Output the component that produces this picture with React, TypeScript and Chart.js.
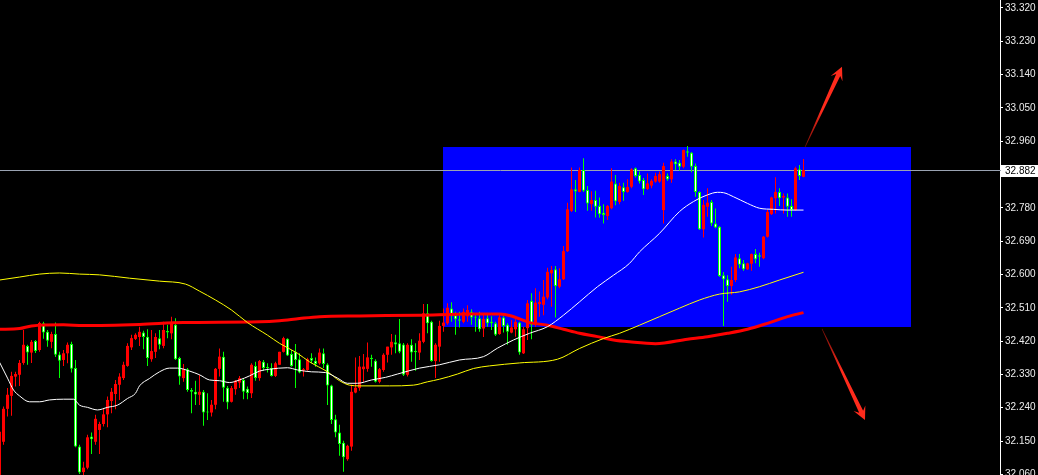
import { useEffect, useRef } from "react";
import { Chart, registerables } from "chart.js";

Chart.register(...registerables);

// Candle OHLC, one entry per bar (bar 0 is the partly visible bar at the left edge)
const OPEN = [
  32.050,
  32.148, 32.237, 32.272, 32.324, 32.329, 32.361, 32.407, 32.389, 32.420, 32.396,
  32.468, 32.445, 32.418, 32.439, 32.384, 32.369, 32.387, 32.412, 32.347, 32.135,
  32.066, 32.078, 32.162, 32.148, 32.180, 32.196, 32.222, 32.258, 32.277, 32.302,
  32.320, 32.353, 32.403, 32.426, 32.431, 32.443, 32.432, 32.371, 32.391, 32.428,
  32.407, 32.447, 32.441, 32.464, 32.374, 32.320, 32.344, 32.288, 32.283, 32.275,
  32.283, 32.229, 32.227, 32.248, 32.345, 32.378, 32.294, 32.256, 32.290, 32.308,
  32.315, 32.291, 32.279, 32.353, 32.320, 32.364, 32.349, 32.347, 32.326, 32.356,
  32.391, 32.426, 32.385, 32.391, 32.371, 32.340, 32.342, 32.374, 32.367, 32.360,
  32.387, 32.357, 32.300, 32.209, 32.173, 32.145, 32.101, 32.135, 32.281, 32.293,
  32.344, 32.345, 32.375, 32.367, 32.310, 32.342, 32.383, 32.403, 32.417, 32.414,
  32.411, 32.329, 32.410, 32.393, 32.389, 32.418, 32.495, 32.472, 32.366, 32.405,
  32.461, 32.468, 32.508, 32.490, 32.479, 32.472, 32.487, 32.499, 32.486, 32.482,
  32.454, 32.482, 32.472, 32.468, 32.439, 32.484, 32.464, 32.443, 32.452, 32.470,
  32.387, 32.455, 32.528, 32.464, 32.520, 32.518, 32.538, 32.603, 32.614, 32.567,
  32.587, 32.663, 32.772, 32.830, 32.823, 32.882, 32.828, 32.790, 32.801, 32.785,
  32.767, 32.758, 32.779, 32.846, 32.796, 32.836, 32.823, 32.837, 32.887, 32.869,
  32.855, 32.831, 32.840, 32.851, 32.851, 32.774, 32.866, 32.857, 32.905, 32.902,
  32.891, 32.933, 32.929, 32.893, 32.823, 32.722, 32.783, 32.796, 32.738, 32.729,
  32.598, 32.587, 32.569, 32.585, 32.644, 32.630, 32.614, 32.629, 32.655, 32.652,
  32.644, 32.702, 32.763, 32.806, 32.823, 32.808, 32.808, 32.785, 32.774, 32.884,
  32.864,
];

const HIGH = [
  32.190,
  32.243, 32.293, 32.337, 32.337, 32.369, 32.450, 32.410, 32.423, 32.423, 32.472,
  32.472, 32.450, 32.445, 32.470, 32.391, 32.396, 32.416, 32.418, 32.369, 32.140,
  32.094, 32.167, 32.173, 32.221, 32.202, 32.239, 32.270, 32.293, 32.315, 32.333,
  32.364, 32.414, 32.437, 32.441, 32.459, 32.448, 32.452, 32.450, 32.441, 32.450,
  32.472, 32.464, 32.486, 32.482, 32.378, 32.358, 32.347, 32.293, 32.313, 32.329,
  32.288, 32.279, 32.261, 32.347, 32.400, 32.391, 32.299, 32.299, 32.315, 32.326,
  32.320, 32.297, 32.360, 32.364, 32.369, 32.369, 32.360, 32.360, 32.364, 32.391,
  32.432, 32.428, 32.396, 32.412, 32.387, 32.347, 32.375, 32.387, 32.376, 32.400,
  32.400, 32.360, 32.302, 32.221, 32.194, 32.151, 32.140, 32.302, 32.376, 32.380,
  32.385, 32.416, 32.383, 32.371, 32.347, 32.387, 32.405, 32.439, 32.437, 32.480,
  32.415, 32.414, 32.425, 32.414, 32.441, 32.520, 32.520, 32.475, 32.414, 32.475,
  32.508, 32.522, 32.525, 32.499, 32.499, 32.508, 32.517, 32.506, 32.496, 32.499,
  32.493, 32.495, 32.487, 32.472, 32.495, 32.487, 32.468, 32.477, 32.479, 32.472,
  32.459, 32.531, 32.549, 32.563, 32.554, 32.585, 32.618, 32.623, 32.623, 32.617,
  32.677, 32.794, 32.889, 32.855, 32.889, 32.914, 32.839, 32.825, 32.826, 32.808,
  32.790, 32.788, 32.887, 32.869, 32.848, 32.848, 32.857, 32.887, 32.889, 32.878,
  32.861, 32.873, 32.857, 32.875, 32.878, 32.902, 32.873, 32.911, 32.911, 32.909,
  32.938, 32.947, 32.931, 32.900, 32.825, 32.801, 32.833, 32.801, 32.778, 32.731,
  32.607, 32.598, 32.621, 32.655, 32.655, 32.639, 32.632, 32.657, 32.669, 32.659,
  32.704, 32.774, 32.810, 32.863, 32.833, 32.819, 32.819, 32.803, 32.891, 32.896,
  32.912,
];

const LOW = [
  32.040,
  32.140, 32.216, 32.218, 32.297, 32.299, 32.356, 32.356, 32.361, 32.388, 32.391,
  32.426, 32.405, 32.401, 32.377, 32.320, 32.353, 32.360, 32.335, 32.133, 32.061,
  32.058, 32.074, 32.115, 32.140, 32.115, 32.189, 32.187, 32.225, 32.236, 32.261,
  32.315, 32.351, 32.396, 32.423, 32.407, 32.398, 32.353, 32.364, 32.374, 32.398,
  32.401, 32.428, 32.425, 32.369, 32.302, 32.310, 32.283, 32.225, 32.247, 32.247,
  32.191, 32.207, 32.216, 32.236, 32.324, 32.256, 32.236, 32.254, 32.275, 32.293,
  32.263, 32.263, 32.266, 32.313, 32.313, 32.340, 32.335, 32.324, 32.323, 32.356,
  32.389, 32.380, 32.351, 32.293, 32.333, 32.324, 32.340, 32.360, 32.351, 32.356,
  32.347, 32.247, 32.196, 32.160, 32.110, 32.067, 32.097, 32.124, 32.279, 32.286,
  32.310, 32.337, 32.351, 32.308, 32.306, 32.337, 32.362, 32.383, 32.387, 32.387,
  32.326, 32.324, 32.364, 32.340, 32.369, 32.414, 32.441, 32.364, 32.320, 32.364,
  32.445, 32.464, 32.472, 32.437, 32.457, 32.468, 32.472, 32.464, 32.445, 32.445,
  32.431, 32.459, 32.450, 32.434, 32.437, 32.443, 32.410, 32.441, 32.432, 32.383,
  32.385, 32.423, 32.425, 32.459, 32.486, 32.490, 32.533, 32.513, 32.484, 32.563,
  32.585, 32.661, 32.769, 32.769, 32.822, 32.823, 32.772, 32.772, 32.754, 32.753,
  32.738, 32.747, 32.776, 32.787, 32.790, 32.799, 32.821, 32.833, 32.862, 32.846,
  32.815, 32.828, 32.833, 32.848, 32.848, 32.738, 32.853, 32.848, 32.882, 32.880,
  32.887, 32.918, 32.876, 32.810, 32.720, 32.700, 32.756, 32.731, 32.725, 32.594,
  32.461, 32.526, 32.545, 32.580, 32.617, 32.610, 32.612, 32.610, 32.630, 32.621,
  32.641, 32.700, 32.761, 32.765, 32.785, 32.765, 32.756, 32.756, 32.772, 32.855,
  32.863,
];

const CLOSE = [
  32.175,
  32.237, 32.275, 32.326, 32.331, 32.361, 32.410, 32.389, 32.418, 32.393, 32.469,
  32.443, 32.421, 32.439, 32.383, 32.367, 32.387, 32.410, 32.345, 32.135, 32.065,
  32.078, 32.160, 32.155, 32.210, 32.196, 32.222, 32.261, 32.283, 32.304, 32.324,
  32.356, 32.407, 32.428, 32.437, 32.445, 32.431, 32.374, 32.393, 32.431, 32.410,
  32.450, 32.443, 32.468, 32.371, 32.324, 32.344, 32.288, 32.283, 32.276, 32.283,
  32.227, 32.227, 32.248, 32.345, 32.378, 32.294, 32.254, 32.293, 32.313, 32.320,
  32.283, 32.280, 32.356, 32.320, 32.366, 32.347, 32.347, 32.326, 32.360, 32.391,
  32.428, 32.381, 32.353, 32.369, 32.335, 32.344, 32.371, 32.367, 32.358, 32.389,
  32.358, 32.300, 32.207, 32.173, 32.142, 32.106, 32.137, 32.283, 32.294, 32.351,
  32.351, 32.376, 32.371, 32.310, 32.344, 32.383, 32.405, 32.418, 32.411, 32.391,
  32.329, 32.410, 32.389, 32.390, 32.421, 32.495, 32.468, 32.366, 32.410, 32.461,
  32.470, 32.510, 32.487, 32.479, 32.475, 32.499, 32.504, 32.484, 32.483, 32.452,
  32.480, 32.468, 32.468, 32.437, 32.484, 32.461, 32.445, 32.457, 32.472, 32.389,
  32.452, 32.522, 32.464, 32.524, 32.526, 32.540, 32.607, 32.612, 32.569, 32.587,
  32.663, 32.776, 32.830, 32.824, 32.882, 32.826, 32.792, 32.801, 32.783, 32.763,
  32.761, 32.785, 32.851, 32.798, 32.839, 32.823, 32.836, 32.884, 32.866, 32.851,
  32.830, 32.846, 32.853, 32.866, 32.871, 32.893, 32.857, 32.905, 32.898, 32.891,
  32.936, 32.929, 32.891, 32.823, 32.722, 32.788, 32.794, 32.738, 32.727, 32.596,
  32.587, 32.569, 32.585, 32.646, 32.626, 32.614, 32.630, 32.655, 32.641, 32.648,
  32.702, 32.769, 32.808, 32.823, 32.806, 32.812, 32.783, 32.774, 32.887, 32.866,
  32.882,
];

// Moving averages as [bar, price] pairs
const MA_FAST = [
  [0, 32.363], [2, 32.320], [3.5, 32.288], [5, 32.272], [7.5, 32.256], [10, 32.256],
  [12.5, 32.261], [16, 32.263], [18.5, 32.263], [20, 32.247], [22, 32.241], [24.5, 32.234],
  [27, 32.241], [29.5, 32.247], [32, 32.265], [34, 32.279], [35, 32.299], [37.5, 32.319],
  [40, 32.337], [42.5, 32.347], [44.5, 32.347], [47.5, 32.339], [50, 32.329], [52.5, 32.315],
  [55, 32.313], [57.5, 32.308], [60, 32.315], [62.5, 32.326], [65, 32.339], [67.5, 32.344],
  [72, 32.348], [74.5, 32.342], [78, 32.337], [81.5, 32.335], [84.5, 32.320], [87, 32.306],
  [89.5, 32.306], [93, 32.315], [96.5, 32.322], [99.5, 32.331], [105, 32.347], [110, 32.356],
  [115, 32.369], [121, 32.378], [124.5, 32.401], [128.5, 32.423], [132.5, 32.441], [137, 32.459],
  [141, 32.490], [145, 32.526], [149.5, 32.567], [153.5, 32.598], [157.5, 32.630], [160, 32.661],
  [165, 32.711], [170, 32.770], [173.5, 32.797], [177, 32.815], [179.5, 32.822], [181, 32.821],
  [183.5, 32.810], [187, 32.792], [190, 32.779], [193.5, 32.776], [197, 32.774], [201, 32.774],
];

const MA_MID = [
  [0, 32.585], [5, 32.593], [10, 32.601], [15, 32.604], [20, 32.601], [25, 32.599],
  [32.5, 32.590], [40, 32.582], [46.5, 32.574], [50, 32.555], [54, 32.531], [58, 32.504],
  [62, 32.470], [67, 32.436], [70, 32.414], [74.5, 32.387], [77.5, 32.364], [82, 32.337],
  [85, 32.313], [87.5, 32.301], [90, 32.299], [97.5, 32.299], [103.5, 32.301], [107, 32.310],
  [110, 32.317], [114.5, 32.331], [118.5, 32.346], [122.5, 32.353], [130, 32.361], [139.5, 32.371],
  [145, 32.400], [151, 32.427], [155, 32.441], [160, 32.463], [165, 32.486], [170, 32.509],
  [175, 32.531], [180, 32.547], [185, 32.553], [190, 32.567], [195, 32.585], [201, 32.606],
];

const MA_SLOW = [
  [0, 32.452], [5, 32.454], [8, 32.461], [16, 32.464], [21, 32.462], [35, 32.465],
  [46, 32.470], [65, 32.472], [70, 32.475], [75, 32.481], [80, 32.486], [90, 32.488],
  [105, 32.490], [117.5, 32.493], [125, 32.493], [128, 32.488], [130, 32.480], [132.5, 32.470],
  [137, 32.463], [141, 32.452], [145, 32.441], [149.5, 32.432], [153.5, 32.423], [157.5, 32.418],
  [164, 32.413], [172, 32.425], [177, 32.432], [182, 32.441], [187, 32.452], [192, 32.468],
  [197, 32.486], [201, 32.497],
];

// Price axis labels
const TICK_VALUES = [
  33.32, 33.23, 33.14, 33.05, 32.96, 32.87, 32.78, 32.69, 32.6, 32.51, 32.42, 32.33, 32.24, 32.15, 32.06,
];

// Highlighted range box (bar span and price span)
const ZONE = { barFrom: 110.875, barTo: 227.875, priceTop: 32.944, priceBottom: 32.458 };

// Breakout arrows: [bar, price] start and tip
const ARROW_UP = { from: [201.375, 32.944], to: [210.625, 33.161] };
const ARROW_DOWN = { from: [205.625, 32.453], to: [216.375, 32.207] };

const LAST_PRICE = CLOSE[CLOSE.length - 1];

const UP_COLOR = "#ff0000";
const DOWN_EDGE = "#00ff00";
const DOWN_FILL = "#ffffff";
const AXIS_FONT = '10px "Liberation Sans"';

function drawArrow(ctx: CanvasRenderingContext2D, sx: number, sy: number, tx: number, ty: number) {
  const dx = tx - sx;
  const dy = ty - sy;
  const len = Math.hypot(dx, dy);
  const ux = dx / len;
  const uy = dy / len;
  const nx = -uy;
  const ny = ux;
  const headLen = 13;
  const headHalf = 6.5;
  const notch = 9;
  const bx = tx - ux * notch;
  const by = ty - uy * notch;
  const hx = tx - ux * headLen;
  const hy = ty - uy * headLen;
  const grad = ctx.createLinearGradient(sx, sy, tx, ty);
  grad.addColorStop(0, "rgba(170,20,10,0.7)");
  grad.addColorStop(0.45, "#ff2b1c");
  grad.addColorStop(1, "#ff2b1c");
  ctx.beginPath();
  ctx.moveTo(sx + nx * 0.3, sy + ny * 0.3);
  ctx.lineTo(bx + nx * 2.2, by + ny * 2.2);
  ctx.lineTo(hx + nx * headHalf, hy + ny * headHalf);
  ctx.lineTo(tx, ty);
  ctx.lineTo(hx - nx * headHalf, hy - ny * headHalf);
  ctx.lineTo(bx - nx * 2.2, by - ny * 2.2);
  ctx.lineTo(sx - nx * 0.3, sy - ny * 0.3);
  ctx.closePath();
  ctx.fillStyle = grad;
  ctx.fill();
}

const backdrop = {
  id: "backdrop",
  beforeDraw(chart: any) {
    const { ctx, width, height } = chart;
    ctx.save();
    ctx.fillStyle = "#000000";
    ctx.fillRect(0, 0, width, height);
    ctx.restore();
  },
  beforeDatasetsDraw(chart: any) {
    const { ctx, chartArea, scales } = chart;
    const xs = scales.x;
    const ys = scales.y;
    ctx.save();
    ctx.beginPath();
    ctx.rect(chartArea.left, chartArea.top, chartArea.right - chartArea.left, chartArea.bottom - chartArea.top);
    ctx.clip();
    const x0 = Math.round(xs.getPixelForValue(ZONE.barFrom));
    const x1 = Math.round(xs.getPixelForValue(ZONE.barTo));
    const y0 = Math.round(ys.getPixelForValue(ZONE.priceTop));
    const y1 = Math.round(ys.getPixelForValue(ZONE.priceBottom));
    ctx.fillStyle = "#0000ff";
    ctx.fillRect(x0, y0, x1 - x0, y1 - y0);
    ctx.restore();

    const py = Math.round(ys.getPixelForValue(LAST_PRICE)) + 0.5;
    ctx.save();
    ctx.strokeStyle = "#9aa3b2";
    ctx.lineWidth = 1;
    ctx.beginPath();
    ctx.moveTo(0, py);
    ctx.lineTo(chartArea.right + 1, py);
    ctx.stroke();
    ctx.restore();
  },
  afterDraw(chart: any) {
    const { ctx, scales, chartArea } = chart;
    const xs = scales.x;
    const ys = scales.y;
    ctx.save();
    for (const a of [ARROW_UP, ARROW_DOWN]) {
      drawArrow(
        ctx,
        xs.getPixelForValue(a.from[0]),
        ys.getPixelForValue(a.from[1]),
        xs.getPixelForValue(a.to[0]),
        ys.getPixelForValue(a.to[1])
      );
    }
    const py = Math.round(ys.getPixelForValue(LAST_PRICE));
    ctx.fillStyle = "#ffffff";
    ctx.fillRect(chartArea.right + 1, py - 5, 37, 12);
    ctx.fillStyle = "#000000";
    ctx.font = AXIS_FONT;
    ctx.textBaseline = "middle";
    ctx.textAlign = "left";
    ctx.fillText(LAST_PRICE.toFixed(3), chartArea.right + 5, py + 1);
    ctx.restore();
  },
};

export default function App() {
  const ref = useRef<HTMLCanvasElement>(null);

  useEffect(() => {
    const bars = OPEN.map((_, i) => i);
    const isUp = bars.map((i) => CLOSE[i] >= OPEN[i]);

    const chart = new Chart(ref.current as HTMLCanvasElement, {
      type: "bar",
      data: {
        datasets: [
          {
            type: "line",
            data: MA_FAST.map(([x, y]) => ({ x, y })),
            borderColor: "#ffffff",
            borderWidth: 1,
            pointRadius: 0,
            cubicInterpolationMode: "monotone",
            order: 0,
          },
          {
            type: "line",
            data: MA_MID.map(([x, y]) => ({ x, y })),
            borderColor: "#ffff00",
            borderWidth: 1,
            pointRadius: 0,
            cubicInterpolationMode: "monotone",
            order: 0,
          },
          {
            type: "line",
            data: MA_SLOW.map(([x, y]) => ({ x, y })),
            borderColor: "#ff0000",
            borderWidth: 3,
            pointRadius: 0,
            cubicInterpolationMode: "monotone",
            order: 0,
          },
          {
            type: "bar",
            data: bars.map((i) => ({ x: i, y: [Math.min(OPEN[i], CLOSE[i]), Math.max(OPEN[i], CLOSE[i])] })),
            backgroundColor: bars.map((i) => (isUp[i] ? UP_COLOR : DOWN_FILL)),
            borderColor: bars.map((i) => (isUp[i] ? UP_COLOR : DOWN_EDGE)),
            borderWidth: bars.map((i) => (isUp[i] ? 0 : 1)),
            borderSkipped: false,
            barThickness: 3,
            minBarLength: 1,
            grouped: false,
            inflateAmount: 0,
            order: 1,
          },
          {
            type: "bar",
            data: bars.map((i) => ({ x: i, y: [LOW[i], HIGH[i]] })),
            backgroundColor: bars.map((i) => (isUp[i] ? UP_COLOR : DOWN_EDGE)),
            borderWidth: 0,
            barThickness: 1,
            grouped: false,
            inflateAmount: 0,
            order: 2,
          },
        ] as any,
      },
      options: {
        animation: false,
        responsive: false,
        devicePixelRatio: 1,
        events: [],
        layout: { padding: 0, autoPadding: false },
        plugins: {
          legend: { display: false },
          tooltip: { enabled: false },
          title: { display: false },
        },
        scales: {
          x: {
            type: "linear",
            min: 0.125,
            max: 250.125,
            display: false,
            offset: false,
          },
          y: {
            type: "linear",
            position: "right",
            min: 32.0582,
            max: 33.3416,
            border: { display: true, color: "#ffffff", width: 1 },
            grid: {
              display: true,
              drawOnChartArea: false,
              drawTicks: true,
              tickLength: 3,
              color: "#ffffff",
            },
            ticks: {
              autoSkip: false,
              padding: 2,
              color: "#ececec",
              font: { family: "Liberation Sans", size: 10 },
              callback: (v: any) => Number(v).toFixed(3),
            },
            afterBuildTicks: (scale: any) => {
              scale.ticks = TICK_VALUES.map((value) => ({ value }));
            },
            afterFit: (scale: any) => {
              scale.width = 38;
              scale.paddingTop = 0;
              scale.paddingBottom = 0;
            },
          },
        },
      } as any,
      plugins: [backdrop],
    });

    return () => chart.destroy();
  }, []);

  return (
    <div style={{ position: "fixed", left: 0, top: 0, width: 1038, height: 475, background: "#000" }}>
      <canvas ref={ref} width={1038} height={475} style={{ display: "block", width: 1038, height: 475 }} />
    </div>
  );
}
